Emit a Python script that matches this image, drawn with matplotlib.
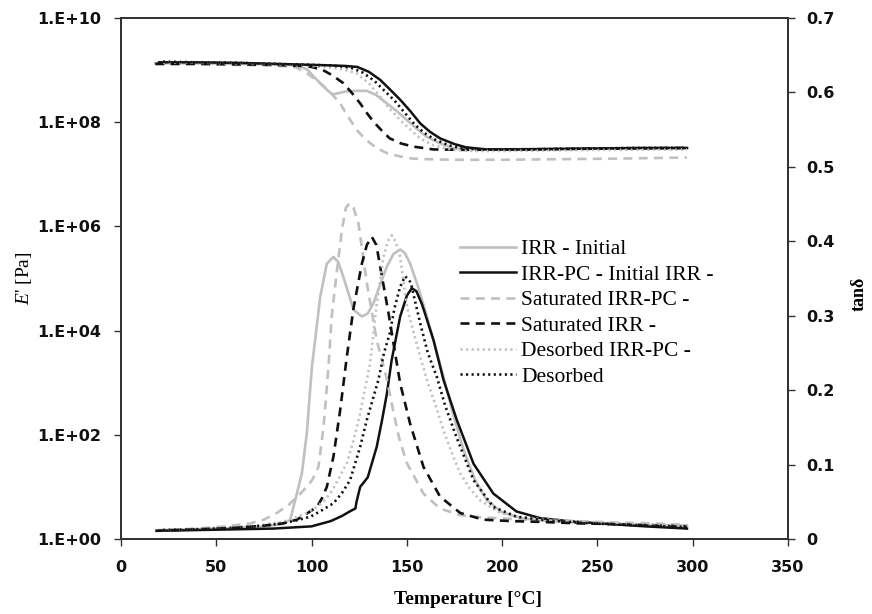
import numpy as np
import matplotlib
matplotlib.use('Agg')
import matplotlib.pyplot as plt
from matplotlib.ticker import FixedLocator, FuncFormatter

plt.rcParams['mathtext.fontset'] = 'custom'
plt.rcParams['mathtext.rm'] = 'Liberation Serif'
plt.rcParams['mathtext.it'] = 'Liberation Serif:italic'

# ---- storage modulus E' [Pa] vs temperature ----
T_E_irr = [18, 40, 60, 80, 90, 94, 98, 102.8, 108, 111, 114, 118, 124, 129, 134,
           139.5, 145, 150, 155, 160.5, 167, 174, 180, 190, 200, 220, 250, 280, 297]
E_irr = [1.35e9, 1.35e9, 1.32e9, 1.29e9, 1.26e9, 1.2e9, 1.0e9, 6.5e8, 4.2e8, 3.4e8,
         3.6e8, 3.9e8, 4.0e8, 4.0e8, 3.3e8, 2.3e8, 1.6e8, 1.1e8, 7.6e7, 5.2e7,
         4.0e7, 3.2e7, 3.0e7, 3.0e7, 3.0e7, 3.1e7, 3.1e7, 3.2e7, 3.2e7]

T_E_pc = [20, 40, 60, 80, 100, 110, 118, 124, 130, 136, 141, 146.5, 152, 157, 162,
          167.4, 175, 181, 192, 210, 240, 270, 297]
E_pc = [1.41e9, 1.41e9, 1.38e9, 1.32e9, 1.26e9, 1.23e9, 1.2e9, 1.15e9, 9.3e8, 6.5e8,
        4.3e8, 2.7e8, 1.6e8, 9.5e7, 6.6e7, 4.9e7, 3.8e7, 3.3e7, 3.0e7, 3.0e7,
        3.1e7, 3.2e7, 3.2e7]

T_E_sat_pc = [18, 40, 60, 80, 88, 92, 98, 104.5, 110, 115, 119, 123.7, 128, 134, 140,
              146.5, 153, 160.5, 175, 200, 230, 260, 297]
E_sat_pc = [1.29e9, 1.29e9, 1.26e9, 1.23e9, 1.17e9, 1.12e9, 8.5e8, 5.6e8, 3.7e8,
            2.3e8, 1.3e8, 7.1e7, 4.8e7, 3.2e7, 2.5e7, 2.2e7, 2.0e7, 1.95e7, 1.9e7,
            1.9e7, 1.95e7, 2.0e7, 2.1e7]

T_E_sat = [18, 40, 60, 80, 95, 100, 106, 111, 116.7, 121, 125.5, 129, 132.5, 137, 141,
           147, 153.4, 164, 180, 210, 250, 297]
E_sat = [1.32e9, 1.32e9, 1.29e9, 1.26e9, 1.2e9, 1.15e9, 1.0e9, 7.9e8, 5.6e8, 3.7e8,
         2.3e8, 1.5e8, 1.02e8, 6.8e7, 4.9e7, 3.9e7, 3.4e7, 3.0e7, 2.95e7, 3.0e7,
         3.1e7, 3.2e7]

T_E_des_pc = [22, 40, 60, 80, 100, 110, 117, 123.7, 130, 136, 141, 146.5, 152, 157,
              164, 174, 185, 200, 230, 260, 297]
E_des_pc = [1.41e9, 1.38e9, 1.35e9, 1.29e9, 1.2e9, 1.12e9, 1.02e9, 8.7e8, 5.6e8,
            3.1e8, 1.8e8, 1.1e8, 7.1e7, 4.9e7, 3.6e7, 2.95e7, 2.8e7, 2.8e7, 2.9e7,
            2.95e7, 3.0e7]

T_E_des = [22, 40, 60, 80, 100, 110, 116, 121, 127, 133, 138, 143.5, 149, 154, 159,
           164.4, 172, 178, 189, 210, 240, 270, 297]
E_des = [1.45e9, 1.41e9, 1.38e9, 1.32e9, 1.26e9, 1.23e9, 1.17e9, 1.1e9, 8.9e8, 6.2e8,
         4.1e8, 2.6e8, 1.5e8, 9.1e7, 6.3e7, 4.7e7, 3.6e7, 3.2e7, 3.0e7, 3.0e7,
         3.1e7, 3.2e7, 3.2e7]

# ---- tan delta vs temperature ----
T_t_irr = [20, 40, 60, 75, 85, 88.8, 91.4, 94.9, 97.5, 100.2, 102, 104.5, 108, 111.5,
           114, 116.7, 120, 122, 126.4, 129.5, 132.5, 136, 139.5, 143, 146.5, 149,
           151.7, 156, 160.5, 165, 169.2, 174, 180, 186, 192, 200, 210, 225, 250,
           275, 297]
tan_irr = [0.012, 0.013, 0.015, 0.017, 0.020, 0.026, 0.052, 0.088, 0.142, 0.232, 0.270,
           0.325, 0.370, 0.379, 0.372, 0.352, 0.325, 0.308, 0.299, 0.303, 0.317, 0.342,
           0.366, 0.383, 0.389, 0.384, 0.370, 0.338, 0.299, 0.258, 0.218, 0.170, 0.118,
           0.078, 0.052, 0.036, 0.028, 0.024, 0.021, 0.019, 0.018]

T_t_pc = [20, 40, 60, 80, 100, 110, 116, 120, 123, 123.6, 125.5, 128, 129.5, 134.2,
          137, 139.5, 142, 146.5, 150, 152.6, 155, 158, 164, 169.2, 176.2, 185, 195.4,
          207.5, 220, 235, 251, 275, 297]
tan_pc = [0.011, 0.012, 0.013, 0.014, 0.017, 0.024, 0.031, 0.037, 0.041, 0.050, 0.070,
          0.078, 0.083, 0.124, 0.160, 0.195, 0.240, 0.299, 0.327, 0.337, 0.333, 0.315,
          0.267, 0.214, 0.160, 0.101, 0.061, 0.037, 0.028, 0.024, 0.021, 0.017, 0.014]

T_t_sat_pc = [18, 40, 55, 67.8, 75, 81.8, 88, 93, 97.5, 100.5, 103.6, 106.3, 108.9,
              110.6, 113.3, 115.9, 118, 119.9, 122, 124.6, 129, 134.2, 139.5, 143, 146,
              150, 158.7, 167.4, 178, 190, 205, 220, 240, 260, 280, 297]
tan_sat_pc = [0.011, 0.014, 0.017, 0.021, 0.026, 0.035, 0.046, 0.058, 0.070, 0.080,
              0.097, 0.151, 0.232, 0.300, 0.360, 0.415, 0.445, 0.451, 0.445, 0.424,
              0.344, 0.267, 0.215, 0.170, 0.135, 0.102, 0.061, 0.041, 0.032, 0.029,
              0.027, 0.025, 0.024, 0.022, 0.021, 0.019]

T_t_sat = [18, 40, 60, 75, 85, 92.3, 98, 102.8, 105.5, 108, 111.5, 115, 118.5, 122,
           126.4, 129, 131.6, 134, 136, 140.4, 143.5, 146.5, 151.7, 158.7, 167.4, 178,
           190, 205, 220, 240, 260, 280, 297]
tan_sat = [0.011, 0.013, 0.015, 0.018, 0.021, 0.026, 0.035, 0.043, 0.055, 0.070, 0.111,
           0.173, 0.245, 0.310, 0.370, 0.395, 0.406, 0.395, 0.366, 0.303, 0.255, 0.209,
           0.155, 0.097, 0.057, 0.035, 0.026, 0.024, 0.023, 0.021, 0.020, 0.018, 0.017]

T_t_des_pc = [22, 40, 60, 75, 85, 93, 98, 102.8, 106, 109.8, 114, 118.5, 122, 125.5,
              129, 130.7, 134, 137.7, 140, 142.1, 144, 146.5, 150, 153.5, 157, 160.5,
              165, 169.2, 174, 178, 183, 188.4, 199, 210, 230, 260, 297]
tan_des_pc = [0.012, 0.014, 0.016, 0.019, 0.023, 0.030, 0.036, 0.043, 0.050, 0.061,
              0.080, 0.102, 0.132, 0.169, 0.214, 0.236, 0.312, 0.379, 0.400, 0.408,
              0.400, 0.379, 0.312, 0.278, 0.245, 0.214, 0.180, 0.146, 0.113, 0.088,
              0.068, 0.052, 0.035, 0.029, 0.025, 0.021, 0.018]

T_t_des = [22, 40, 60, 75, 85, 92, 99.4, 105, 111.5, 116, 120.2, 125.5, 129, 132.5,
           135.1, 138, 141, 143.5, 146.5, 149.1, 152, 157, 161, 165.7, 170, 176, 185,
           195.4, 207.5, 220, 240, 265, 297]
tan_des = [0.012, 0.013, 0.015, 0.018, 0.021, 0.025, 0.030, 0.038, 0.048, 0.062, 0.079,
           0.124, 0.160, 0.191, 0.214, 0.250, 0.276, 0.310, 0.339, 0.353, 0.345, 0.290,
           0.250, 0.218, 0.180, 0.137, 0.079, 0.043, 0.030, 0.026, 0.022, 0.019, 0.016]

labels = ['IRR - Initial', 'IRR-PC - Initial IRR -', 'Saturated IRR-PC -',
          'Saturated IRR -', 'Desorbed IRR-PC -', 'Desorbed']

gray = '#c0c0c0'
black = '#111111'
styles = [
    dict(color=gray, lw=1.9, linestyle='-'),
    dict(color=black, lw=1.8, linestyle='-'),
    dict(color=gray, lw=1.9, linestyle=(0, (3.4, 2.4))),
    dict(color=black, lw=1.9, linestyle=(0, (3.4, 2.4))),
    dict(color=gray, lw=1.9, linestyle=(0, (0.8, 1.3))),
    dict(color=black, lw=1.9, linestyle=(0, (0.8, 1.3))),
]

E_sets = [(T_E_irr, E_irr), (T_E_pc, E_pc), (T_E_sat_pc, E_sat_pc),
          (T_E_sat, E_sat), (T_E_des_pc, E_des_pc), (T_E_des, E_des)]
tan_sets = [(T_t_irr, tan_irr), (T_t_pc, tan_pc), (T_t_sat_pc, tan_sat_pc),
            (T_t_sat, tan_sat), (T_t_des_pc, tan_des_pc), (T_t_des, tan_des)]

fig = plt.figure(figsize=(8.72, 6.14), dpi=100)
ax = fig.add_axes([121 / 872, 75 / 614, 667 / 872, 521 / 614])
ax2 = ax.twinx()

for (t, e), st in zip(E_sets, styles):
    ax.plot(t, e, **st)

handles = []
for (t, v), st, lab in zip(tan_sets, styles, labels):
    h, = ax2.plot(t, v, label=lab, **st)
    handles.append(h)

ax.set_yscale('log')
ax.set_ylim(1, 1e10)
ax.set_xlim(0, 350)
ax2.set_ylim(0, 0.7)

ax.yaxis.set_major_locator(FixedLocator([1e0, 1e2, 1e4, 1e6, 1e8, 1e10]))
ax.yaxis.set_minor_locator(FixedLocator([]))
ax.yaxis.set_major_formatter(FuncFormatter(lambda v, p: '1.E+%02d' % round(np.log10(v))))
ax.set_xticks(np.arange(0, 351, 50))
ax2.set_yticks(np.arange(0, 0.71, 0.1))
ax2.yaxis.set_major_formatter(FuncFormatter(lambda v, p: '0' if abs(v) < 1e-9 else '%.1f' % v))

tick_font = dict(family='DejaVu Sans', weight='bold', size=11.5)
for a in (ax, ax2):
    for sp in a.spines.values():
        sp.set_color('#333333')
        sp.set_linewidth(1.4)
    a.tick_params(direction='out', length=5, width=1, color='#333333')
    for lbl in a.get_xticklabels() + a.get_yticklabels():
        lbl.set_fontproperties(matplotlib.font_manager.FontProperties(**tick_font))
        lbl.set_color('#111111')
ax.tick_params(axis='x', pad=10)
ax.tick_params(axis='y', pad=9)
ax2.tick_params(axis='y', pad=8)

ax.set_xlabel('Temperature [°C]', family='Liberation Serif', weight='bold', size=14)
ax.xaxis.set_label_coords(0.52, -0.1)
ax.set_ylabel("$E$' [Pa]", family='Liberation Serif', size=14)
ax.yaxis.set_label_coords(-0.13, 0.5)
ax2.set_ylabel('tanδ', family='Liberation Serif', weight='bold', size=13)
ax2.yaxis.set_label_coords(1.094, 0.47)

ax2.legend(handles=handles, loc='upper left', bbox_to_anchor=(0.508, 0.575),
           frameon=False, prop=dict(family='Liberation Serif', size=15.5),
           handlelength=2.6, handletextpad=0.25, labelspacing=0.25,
           borderpad=0, borderaxespad=0)

fig.savefig('out.png', dpi=100)
